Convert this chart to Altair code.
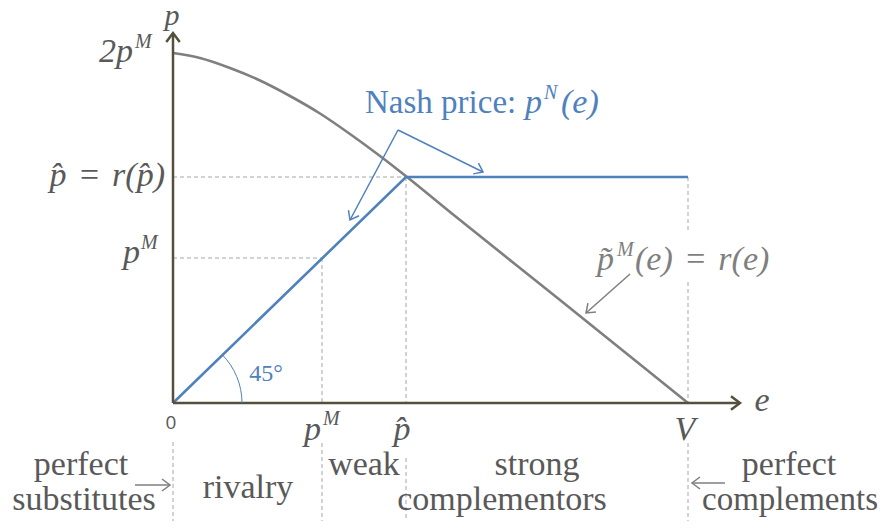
import altair as alt
import pandas as pd

# ---- values (1 unit = 100 px of the original) ----
p_M = 1.49          # monopoly price on e-axis
p_M_height = 1.45
p_hat = 2.33
p_hat_height = 2.26
V = 5.15
two_pM = 3.50

# gray curve  p~M(e) = r(e)
curve_e = [0.00, 0.27, 0.57, 0.87, 1.17, 1.47, 1.77, 2.07, 2.34, 2.77, 3.87, 5.15]
curve_p = [3.50, 3.45, 3.35, 3.225, 3.07, 2.895, 2.69, 2.47, 2.26, 1.91, 1.03, 0.00]

# blue Nash price line
nash_e = [0.00, p_hat, V]
nash_p = [0.00, p_hat_height, p_hat_height]

AXIS_C = "#55503c"
BLUE = "#4f81bd"
GRAY = "#7f7f7f"
TXT = "#595959"
DASH_C = "#a6a6a6"

xs = alt.Scale(domain=[-1.65, 7.07], nice=False, zero=False)
ys = alt.Scale(domain=[-1.18, 3.95], nice=False, zero=False)
X = alt.X("x:Q", scale=xs, axis=None)
Y = alt.Y("y:Q", scale=ys, axis=None)

# ---- lines ----
curve_df = pd.DataFrame({"x": curve_e, "y": curve_p, "i": range(len(curve_e))})
nash_df = pd.DataFrame({"x": nash_e, "y": nash_p, "i": range(len(nash_e))})

curve = alt.Chart(curve_df).mark_line(color=GRAY, strokeWidth=2.6, interpolate="monotone").encode(
    x=X, y=Y, order="i:Q")
nash = alt.Chart(nash_df).mark_line(color=BLUE, strokeWidth=2.6).encode(x=X, y=Y, order="i:Q")

# ---- solid segments (axes and annotation arrows) ----
seg = pd.DataFrame([
    dict(x=0, y=0, x2=0, y2=3.70, c=AXIS_C, w=2.5),
    dict(x=0, y=0, x2=5.67, y2=0, c=AXIS_C, w=2.5),
    dict(x=2.25, y=2.73, x2=1.77, y2=1.83, c=BLUE, w=1.5),
    dict(x=2.25, y=2.73, x2=3.10, y2=2.31, c=BLUE, w=1.5),
    dict(x=4.57, y=1.29, x2=4.13, y2=0.90, c=GRAY, w=1.5),
    dict(x=-0.38, y=-0.82, x2=-0.03, y2=-0.82, c=GRAY, w=1.5),
    dict(x=5.52, y=-0.80, x2=5.19, y2=-0.80, c=GRAY, w=1.5),
])
solid = alt.Chart(seg).mark_rule().encode(
    x=X, y=Y, x2="x2:Q", y2="y2:Q",
    color=alt.Color("c:N", scale=None), strokeWidth=alt.StrokeWidth("w:Q", scale=None))

# ---- dashed guides ----
dash = pd.DataFrame([
    dict(x=0, y=p_hat_height, x2=p_hat, y2=p_hat_height),
    dict(x=0, y=p_M_height, x2=p_M, y2=p_M_height),
    dict(x=p_M, y=p_M_height, x2=p_M, y2=0),
    dict(x=p_hat, y=p_hat_height, x2=p_hat, y2=0),
    dict(x=V, y=p_hat_height, x2=V, y2=1.73),
    dict(x=V, y=1.21, x2=V, y2=0),
    dict(x=0, y=-0.39, x2=0, y2=-1.18),
    dict(x=p_M, y=-0.40, x2=p_M, y2=-1.18),
    dict(x=p_hat, y=-0.55, x2=p_hat, y2=-1.18),
    dict(x=V, y=-0.40, x2=V, y2=-1.18),
])
dashed = alt.Chart(dash).mark_rule(color=DASH_C, strokeWidth=1, strokeDash=[4, 3]).encode(
    x=X, y=Y, x2="x2:Q", y2="y2:Q")

# ---- arrowheads ----
CHEV = "M -1 -0.75 L 0 0 L -1 0.75"
heads = pd.DataFrame([
    dict(x=0, y=3.70, a=270, c=AXIS_C, s=324, w=2.5),
    dict(x=5.67, y=0, a=0, c=AXIS_C, s=324, w=2.5),
    dict(x=1.77, y=1.83, a=118, c=BLUE, s=256, w=1.5),
    dict(x=3.10, y=2.31, a=26, c=BLUE, s=256, w=1.5),
    dict(x=4.13, y=0.90, a=138, c=GRAY, s=256, w=1.5),
    dict(x=-0.03, y=-0.82, a=0, c=GRAY, s=256, w=1.5),
    dict(x=5.19, y=-0.80, a=180, c=GRAY, s=256, w=1.5),
])
arrowheads = alt.Chart(heads).mark_point(shape=CHEV, filled=False, opacity=1).encode(
    x=X, y=Y, angle=alt.Angle("a:Q", scale=None), size=alt.Size("s:Q", scale=None),
    color=alt.Color("c:N", scale=None), strokeWidth=alt.StrokeWidth("w:Q", scale=None))

# 45 degree arc at the origin
arc_df = pd.DataFrame({"x": [0.0], "y": [0.0]})
arc = alt.Chart(arc_df).mark_point(
    shape="M 1 0 A 1 1 0 0 0 0.7071 -0.7071", filled=False, opacity=1,
    color=BLUE, strokeWidth=1, size=19044).encode(x=X, y=Y)

# ---- texts ----
SERIF = "Liberation Serif"
SP = "\u2004"
texts = [
    # (text, x, y, size, color, font, style, align)
    ("p", -0.01, 3.78, 30, TXT, SERIF, "italic", "center"),
    ("2p", -0.40, 3.41, 34, TXT, SERIF, "italic", "right"),
    ("M", -0.38, 3.55, 20, TXT, SERIF, "italic", "left"),
    ("p\u0302" + SP + "=" + SP + "r(p\u0302)", -0.08, 2.17, 34, TXT, SERIF, "italic", "right"),
    ("p", -0.33, 1.40, 34, TXT, SERIF, "italic", "right"),
    ("M", -0.32, 1.54, 20, TXT, SERIF, "italic", "left"),
    ("p", 1.48, -0.37, 34, TXT, SERIF, "italic", "right"),
    ("M", 1.50, -0.22, 20, TXT, SERIF, "italic", "left"),
    ("p\u0302", 2.29, -0.37, 34, TXT, SERIF, "italic", "center"),
    ("V", 5.12, -0.37, 34, TXT, SERIF, "italic", "center"),
    ("e", 5.89, -0.08, 34, TXT, SERIF, "italic", "center"),
    ("p", 3.52, 2.90, 34, BLUE, SERIF, "italic", "left"),
    ("N", 3.71, 3.04, 20, BLUE, SERIF, "italic", "left"),
    ("(e)", 3.88, 2.90, 34, BLUE, SERIF, "italic", "left"),
    ("p\u0303", 4.24, 1.33, 34, GRAY, SERIF, "italic", "left"),
    ("M", 4.44, 1.47, 20, GRAY, SERIF, "italic", "left"),
    ("(e)" + SP + "=" + SP + "r(e)", 4.62, 1.33, 34, GRAY, SERIF, "italic", "left"),
    ("Nash price:", 1.92, 2.90, 33, BLUE, SERIF, "normal", "left"),
    ("45°", 0.93, 0.22, 24, BLUE, SERIF, "normal", "center"),
    ("0", -0.02, -0.26, 19, TXT, "Open Sans", "normal", "center"),
    ("perfect", -0.92, -0.72, 34, TXT, SERIF, "normal", "center"),
    ("substitutes", -0.89, -1.07, 34, TXT, SERIF, "normal", "center"),
    ("rivalry", 0.75, -0.95, 34, TXT, SERIF, "normal", "center"),
    ("weak", 1.91, -0.72, 34, TXT, SERIF, "normal", "center"),
    ("strong", 3.64, -0.72, 34, TXT, SERIF, "normal", "center"),
    ("complementors", 3.29, -1.07, 34, TXT, SERIF, "normal", "center"),
    ("perfect", 6.16, -0.72, 34, TXT, SERIF, "normal", "center"),
    ("complements", 6.17, -1.07, 33, TXT, SERIF, "normal", "center"),
]
tdf = pd.DataFrame(texts, columns=["t", "x", "y", "size", "c", "font", "style", "align"])

text_layers = []
for (font, style, align), g in tdf.groupby(["font", "style", "align"]):
    text_layers.append(
        alt.Chart(g.reset_index(drop=True)).mark_text(
            font=font, fontStyle=style, align=align, baseline="alphabetic").encode(
            x=X, y=Y, text="t:N", size=alt.Size("size:Q", scale=None),
            color=alt.Color("c:N", scale=None)))

chart = alt.layer(dashed, curve, nash, solid, arrowheads, arc, *text_layers).properties(
    width=872, height=513, padding=0,
    autosize=alt.AutoSizeParams(type="none")).configure_view(stroke=None)

chart.save("out.html", embed_options={"renderer": "svg", "actions": False})
